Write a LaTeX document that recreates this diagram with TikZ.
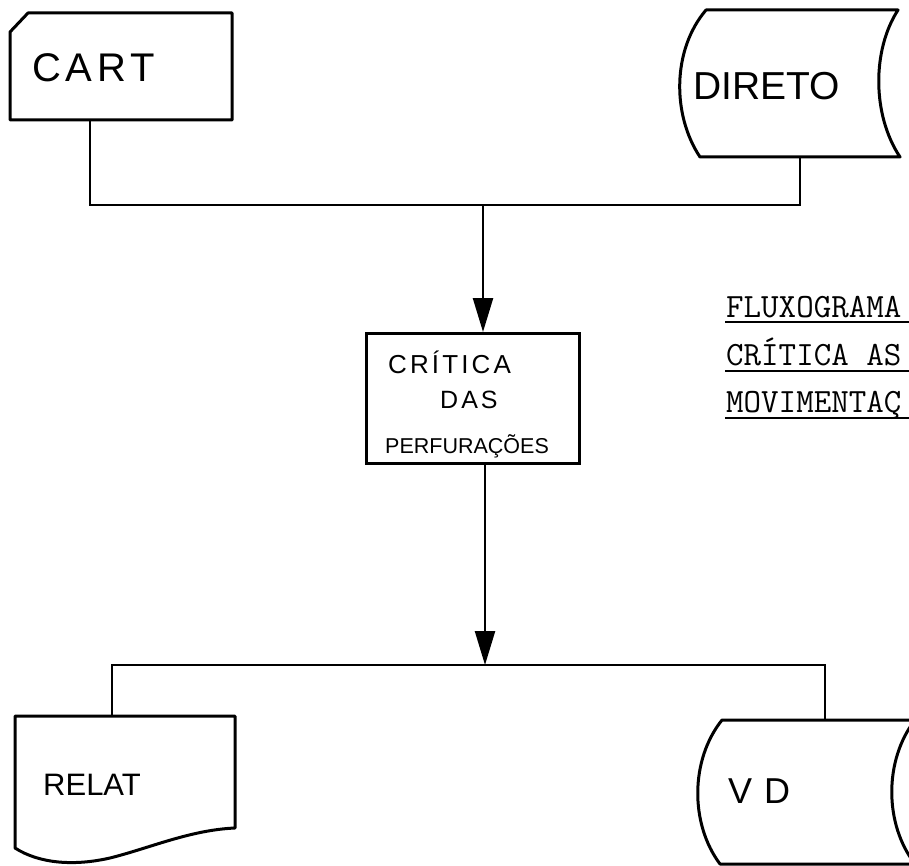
\documentclass[tikz,border=0pt]{standalone}
\usepackage{fontspec}
\setmainfont{Liberation Sans}
\newfontfamily\hand{Liberation Sans}
\newfontfamily\handsp[LetterSpace=12]{Liberation Sans}
\newfontfamily\typew{Latin Modern Mono}
\usetikzlibrary{arrows.meta,calc}
\begin{document}
\begin{tikzpicture}[x=1pt,y=-1pt,
  shapeline/.style={draw=black, line width=3pt, line join=round},
  link/.style={draw=black, line width=2.4pt},
  flow/.style={link, -{Triangle[length=34pt,width=20pt]}},
  txt/.style={inner sep=0pt, anchor=base west},
  title/.style={txt, font=\typew\fontsize{34}{34}\selectfont},
  uline/.style={draw=black, line width=2.2pt}]
\useasboundingbox (0,0) rectangle (909,866);
\fill[white] (0,0) rectangle (909,866);
\clip (0,0) rectangle (909,866);

% CART (punched card)
\draw[shapeline] (10,32) -- (28,13) -- (232,13) -- (232,120) -- (10,120) -- cycle;
\node[txt, font=\handsp\fontsize{40}{40}\selectfont] (cart) at (32,82) {CART};

% DIRETO (direct access storage)
\draw[shapeline] (706,10) -- (898,10) .. controls (872,50) and (872,115) .. (900,157)
  -- (700,157) .. controls (672,115) and (672,50) .. (706,10) -- cycle;
\node[txt, font=\hand\fontsize{39}{39}\selectfont] (direto) at (693,100) {DIRETO};

% merge of inputs
\coordinate (cartOut) at (90,120);
\coordinate (diretoOut) at (800,157);
\coordinate (merge) at (483,205);
\draw[link] (cartOut) |- (merge) -| (diretoOut);

% process box
\node[draw, line width=3pt, minimum width=213pt, minimum height=130pt,
  anchor=north west, inner sep=0pt] (crit) at (365,332) {};
\draw[flow] (merge) -- (merge |- crit.north);
\node[txt, font=\handsp\fontsize{26}{26}\selectfont] (l1) at (388,373) {CRÍTICA};
\node[txt, font=\handsp\fontsize{25}{25}\selectfont] (l2) at (440,408) {DAS};
\node[txt, font=\hand\fontsize{21.5}{21.5}\selectfont] (l3) at (385,453) {PERFURAÇÕES};

% split to outputs
\coordinate (split) at (485,665);
\draw[flow] (split |- crit.south) -- (split);
\coordinate (relIn) at (112,716);
\coordinate (vdIn) at (825,720);
\draw[link] (relIn) |- (split) -| (vdIn);

% RELAT (document)
\draw[shapeline] (15,716) -- (235,716) -- (235,828)
  .. controls (190,830) and (150,848) .. (110,858)
  .. controls (75,866) and (40,864) .. (15,848) -- cycle;
\node[txt, font=\hand\fontsize{31}{31}\selectfont] (relat) at (43,795) {RELAT};

% VD (direct access storage)
\draw[shapeline] (722,720) -- (915,720) .. controls (884,760) and (884,824) .. (915,864)
  -- (720,864) .. controls (690,824) and (690,760) .. (722,720) -- cycle;
\node[txt, font=\hand\fontsize{36}{36}\selectfont] (vd) at (728,803) {V\kern12pt D};

% title
\node[title] (t1) at (726,317) {FLUXOGRAMA};
\node[title] (t2) at (726,365) {CRÍTICA AS};
\node[title] (t3) at (726,412) {MOVIMENTAÇ};
\draw[uline] ($(t1.base west)+(-1,5)$) -- ($(t1.base west)+(200,5)$);
\draw[uline] ($(t2.base west)+(-1,6)$) -- ($(t2.base west)+(200,6)$);
\draw[uline] ($(t3.base west)+(-1,6)$) -- ($(t3.base west)+(200,6)$);
\end{tikzpicture}
\end{document}
